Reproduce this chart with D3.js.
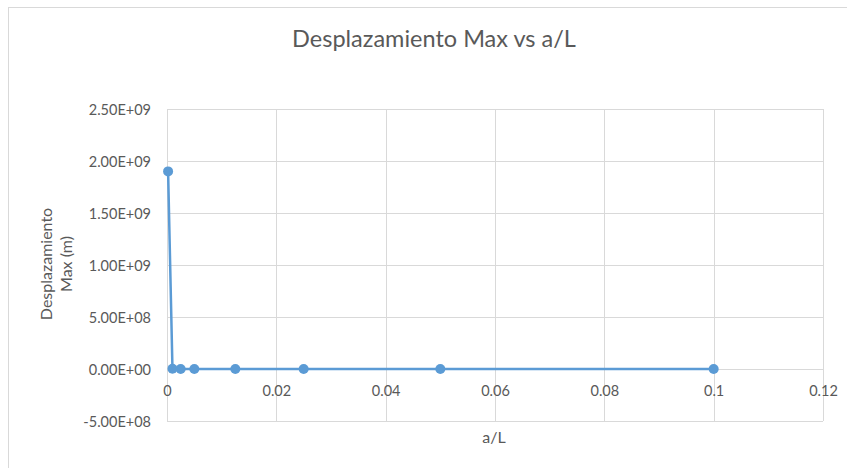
<!DOCTYPE html>
<html>
<head>
<meta charset="utf-8">
<script src="https://cdn.jsdelivr.net/npm/d3@7"></script>
<style>
  html, body { margin: 0; padding: 0; background: #fff; }
  svg { display: block; }
  text { font-family: Lato, "Open Sans", sans-serif; fill: #595959; }
</style>
</head>
<body>
<svg id="chart" width="847" height="468"></svg>
<script>
// Ratio a/L and maximum displacement (m)
const aOverL = [0.0002, 0.001, 0.0025, 0.005, 0.0125, 0.025, 0.05, 0.1];
const desplazamiento = [1.9e9, 3.0e6, 1.2e5, 7.6e3, 2.0e2, 1.2e1, 0.8, 0.05];

const xTicks = [0, 0.02, 0.04, 0.06, 0.08, 0.1, 0.12];
const xTickLabels = ["0", "0.02", "0.04", "0.06", "0.08", "0.1", "0.12"];
const yTicks = [-5e8, 0, 5e8, 1e9, 1.5e9, 2e9, 2.5e9];
const yTickLabels = ["-5.00E+08", "0.00E+00", "5.00E+08", "1.00E+09", "1.50E+09", "2.00E+09", "2.50E+09"];

const title = "Desplazamiento Max vs a/L";
const xTitle = "a/L";
const yTitleLines = ["Desplazamiento", "Max (m)"];

const svg = d3.select("#chart");
const plot = { left: 167, right: 823, top: 109, bottom: 421 };

// Chart frame (extends beyond the visible window on the right and bottom)
svg.append("rect")
  .attr("x", 8.5).attr("y", 7.5)
  .attr("width", 900).attr("height", 500)
  .attr("fill", "#fff").attr("stroke", "#d9d9d9").attr("stroke-width", 1);

const x = d3.scaleLinear().domain([0, 0.12]).range([plot.left, plot.right]);
const y = d3.scaleLinear().domain([-5e8, 2.5e9]).range([plot.bottom, plot.top]);

// Gridlines
const grid = svg.append("g").attr("stroke", "#d9d9d9").attr("stroke-width", 1);
grid.selectAll("line.h").data(yTicks).join("line")
  .attr("class", "h")
  .attr("x1", plot.left).attr("x2", plot.right)
  .attr("y1", d => Math.round(y(d)) + 0.5).attr("y2", d => Math.round(y(d)) + 0.5);
grid.selectAll("line.v").data(xTicks).join("line")
  .attr("class", "v")
  .attr("y1", plot.top).attr("y2", plot.bottom)
  .attr("x1", d => Math.round(x(d)) + 0.5).attr("x2", d => Math.round(x(d)) + 0.5);

// Y axis labels
const yAxis = d3.axisLeft(y).tickValues(yTicks)
  .tickFormat((d, i) => yTickLabels[i]).tickSize(0).tickPadding(0);
const gy = svg.append("g").attr("transform", `translate(${plot.left - 16},0)`).call(yAxis);
gy.select(".domain").remove();
gy.selectAll("text").style("font-size", "14.5px").style("font-family", "Lato, sans-serif")
  .attr("fill", "#595959").attr("dy", "0.35em");

// X axis labels sit just under the zero line
const xAxis = d3.axisBottom(x).tickValues(xTicks)
  .tickFormat((d, i) => xTickLabels[i]).tickSize(0).tickPadding(0);
const gx = svg.append("g").attr("transform", `translate(0,${y(0) + 22})`).call(xAxis);
gx.select(".domain").remove();
gx.selectAll("text").style("font-size", "14.5px").style("font-family", "Lato, sans-serif")
  .attr("fill", "#595959").attr("dy", "0.35em");

// Series line and markers
const pts = aOverL.map((a, i) => [a, desplazamiento[i]]);
svg.append("path")
  .datum(pts)
  .attr("fill", "none")
  .attr("stroke", "#5b9bd5")
  .attr("stroke-width", 2.5)
  .attr("stroke-linejoin", "round")
  .attr("d", d3.line().x(d => x(d[0])).y(d => y(d[1])));
svg.append("g").selectAll("circle").data(pts).join("circle")
  .attr("cx", d => x(d[0])).attr("cy", d => y(d[1]))
  .attr("r", 5).attr("fill", "#5b9bd5");

// Titles
svg.append("text")
  .attr("x", 434).attr("y", 47).attr("text-anchor", "middle")
  .style("font-size", "23.5px").text(title);
svg.append("text")
  .attr("x", 494).attr("y", 437).attr("text-anchor", "middle").attr("dy", "0.35em")
  .style("font-size", "16px").text(xTitle);
const yt = svg.append("text")
  .attr("transform", "translate(56,264) rotate(-90)")
  .attr("text-anchor", "middle")
  .style("font-size", "16px");
yTitleLines.forEach((t, i) => {
  yt.append("tspan").attr("x", 0).attr("y", (i - 0.5) * 20).attr("dy", "0.35em").text(t);
});
</script>
</body>
</html>
